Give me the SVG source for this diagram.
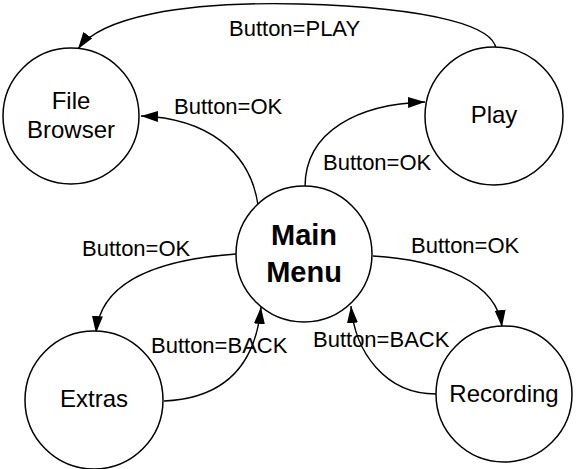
<svg xmlns="http://www.w3.org/2000/svg" width="576" height="469" viewBox="0 0 576 469">
<style>
.node{fill:#fff;stroke:#000;stroke-width:1.5}
.nt{font-family:"Liberation Sans",Arial,sans-serif;font-size:24px;fill:#000;text-anchor:middle}
.bt{font-family:"Liberation Sans",Arial,sans-serif;font-size:29px;font-weight:bold;fill:#000;text-anchor:middle}
.lbl{font-family:"Liberation Sans",Arial,sans-serif;font-size:22px;fill:#000}
.edge{fill:none;stroke:#000;stroke-width:1.4;marker-end:url(#arr)}
</style>
<defs>
<marker id="arr" markerUnits="userSpaceOnUse" markerWidth="17" markerHeight="11" refX="17" refY="5.5" orient="auto">
<path d="M0,0 L17,5.5 L0,11 z" fill="#000"/>
</marker>
</defs>
<rect width="576" height="469" fill="#fff"/>
<g id="connectors">
<path class="edge" d="M496 49 C494 28,440 8,300 4 C180 1,100 18,78 49"/>
<path class="edge" d="M258 205 C250 150,205 118,141 116"/>
<path class="edge" d="M305 187 C305 130,360 104,425 102"/>
<path class="edge" d="M236 254 C150 260,100 285,96 333"/>
<path class="edge" d="M164 401 C230 398,256 360,261 307"/>
<path class="edge" d="M373 256 C440 260,497 282,502 327"/>
<path class="edge" d="M436 394 C385 394,355 352,351 306"/>
</g>
<g id="labels">
<text class="lbl" x="229" y="36">Button=PLAY</text>
<text class="lbl" x="174" y="114">Button=OK</text>
<text class="lbl" x="323" y="170">Button=OK</text>
<text class="lbl" x="82" y="256">Button=OK</text>
<text class="lbl" x="151" y="353">Button=BACK</text>
<text class="lbl" x="411" y="253">Button=OK</text>
<text class="lbl" x="313" y="347">Button=BACK</text>
</g>
<g id="file-browser">
<circle class="node" cx="71" cy="116" r="68"/>
<text class="nt" x="71" y="109">File</text>
<text class="nt" x="71" y="138">Browser</text>
</g>
<g id="play">
<circle class="node" cx="494" cy="116" r="69"/>
<text class="nt" x="494" y="123">Play</text>
</g>
<g id="main-menu">
<circle class="node" cx="304" cy="254" r="68"/>
<text class="bt" x="304" y="245">Main</text>
<text class="bt" x="304" y="282">Menu</text>
</g>
<g id="extras">
<circle class="node" cx="94" cy="400" r="69"/>
<text class="nt" x="94" y="407">Extras</text>
</g>
<g id="recording">
<circle class="node" cx="504" cy="394" r="68"/>
<text class="nt" x="504" y="402">Recording</text>
</g>
</svg>
